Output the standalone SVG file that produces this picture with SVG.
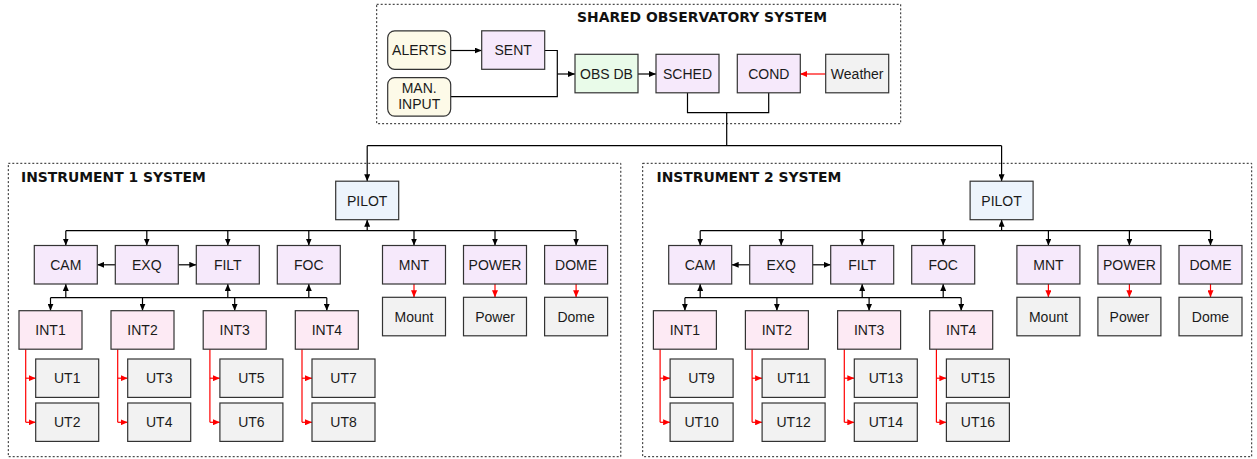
<svg xmlns="http://www.w3.org/2000/svg" width="1257" height="459" viewBox="0 0 1257 459">
<defs>
<marker id="ab" viewBox="0 0 7 6" refX="7" refY="3" markerWidth="7" markerHeight="6" markerUnits="userSpaceOnUse" orient="auto"><path d="M0,0 L7,3 L0,6 z" fill="#000"/></marker>
<marker id="ar" viewBox="0 0 7 6" refX="7" refY="3" markerWidth="7" markerHeight="6" markerUnits="userSpaceOnUse" orient="auto"><path d="M0,0 L7,3 L0,6 z" fill="#ff0000"/></marker>
</defs>
<style>
.n{stroke:#333;stroke-width:1.2}
.in{fill:#fdfae8}
.pu{fill:#f6e9fb}
.gr{fill:#e9fbe9}
.gy{fill:#f2f2f2}
.bl{fill:#edf4fc}
.pk{fill:#fdeaf4}
.t{font-family:"Liberation Sans",Arial,sans-serif;font-size:14px;fill:#1a1a1a;text-anchor:middle}
.h{font-family:"DejaVu Sans",sans-serif;font-weight:bold;font-size:13.9px;fill:#111}
.sys{fill:none;stroke:#222;stroke-width:1;stroke-dasharray:2 2}
.c{fill:none;stroke:#000;stroke-width:1.2}
.cR{fill:none;stroke:#ff0000;stroke-width:1.2}
.ca{fill:none;stroke:#000;stroke-width:1.2;marker-end:url(#ab)}
.cr{fill:none;stroke:#ff0000;stroke-width:1.2;marker-end:url(#ar)}
</style>
<rect width="1257" height="459" fill="#fff"/>

<g id="shared-system">
<rect class="sys" x="376.7" y="4.3" width="524" height="119.4"/>
<text class="h" x="702" y="21.7" text-anchor="middle">SHARED OBSERVATORY SYSTEM</text>
</g>
<g id="instrument1-system">
<rect class="sys" x="8.3" y="163.3" width="612.5" height="293.4"/>
<text class="h" x="21" y="182">INSTRUMENT 1 SYSTEM</text>
</g>
<g id="instrument2-system">
<rect class="sys" x="642.7" y="163.3" width="609" height="293.4"/>
<text class="h" x="656.5" y="182">INSTRUMENT 2 SYSTEM</text>
</g>

<g id="connectors">
<path class="ca" d="M450.7,50.5 H481.7"/>
<path class="c" d="M544.7,50.5 H557.3 V74"/>
<path class="c" d="M450.7,96.7 H557.3 V74"/>
<path class="ca" d="M557.3,74 H575"/>
<path class="ca" d="M638,74 H656"/>
<path class="cr" d="M825.7,74 H800"/>
<path class="c" d="M687.5,92.7 V112.7 H768.7 V92.7"/>
<path class="c" d="M726.7,112.7 V145.7"/>
<path class="c" d="M367.2,145.7 H1001.6"/>
<path class="ca" d="M367.2,145.7 V181.2"/>
<path class="ca" d="M1001.6,145.7 V181.2"/>

<g id="i1-connectors">
<path class="ca" d="M367.2,230.7 V219.7"/>
<path class="c" d="M65.8,230.7 H576.1"/>
<path class="ca" d="M65.8,230.7 V245.5"/>
<path class="ca" d="M146.8,230.7 V245.5"/>
<path class="ca" d="M227.8,230.7 V245.5"/>
<path class="ca" d="M308.8,230.7 V245.5"/>
<path class="ca" d="M414,230.7 V245.5"/>
<path class="ca" d="M495,230.7 V245.5"/>
<path class="ca" d="M576.1,230.7 V245.5"/>
<path class="ca" d="M115.3,264.8 H97.3"/>
<path class="ca" d="M178.3,264.8 H196.3"/>
<path class="cr" d="M414,284 V297.3"/>
<path class="cr" d="M495,284 V297.3"/>
<path class="cr" d="M576.1,284 V297.3"/>
<path class="c" d="M50.5,297.7 H326.8"/>
<path class="ca" d="M65.8,297.7 V284"/>
<path class="ca" d="M227.8,297.7 V284"/>
<path class="ca" d="M308.8,297.7 V284"/>
<path class="ca" d="M50.5,297.7 V310.7"/>
<path class="ca" d="M142.5,297.7 V310.7"/>
<path class="ca" d="M234.7,297.7 V310.7"/>
<path class="ca" d="M326.8,297.7 V310.7"/>
<path class="cR" d="M25.7,349.2 V422.3"/>
<path class="cr" d="M25.7,378.2 H35.7"/>
<path class="cr" d="M25.7,422.3 H35.7"/>
<path class="cR" d="M117.7,349.2 V422.3"/>
<path class="cr" d="M117.7,378.2 H127.7"/>
<path class="cr" d="M117.7,422.3 H127.7"/>
<path class="cR" d="M209.9,349.2 V422.3"/>
<path class="cr" d="M209.9,378.2 H219.9"/>
<path class="cr" d="M209.9,422.3 H219.9"/>
<path class="cR" d="M302,349.2 V422.3"/>
<path class="cr" d="M302,378.2 H312"/>
<path class="cr" d="M302,422.3 H312"/>
</g>

<g id="i2-connectors" transform="translate(634.4,0)">
<path class="ca" d="M367.2,230.7 V219.7"/>
<path class="c" d="M65.8,230.7 H576.1"/>
<path class="ca" d="M65.8,230.7 V245.5"/>
<path class="ca" d="M146.8,230.7 V245.5"/>
<path class="ca" d="M227.8,230.7 V245.5"/>
<path class="ca" d="M308.8,230.7 V245.5"/>
<path class="ca" d="M414,230.7 V245.5"/>
<path class="ca" d="M495,230.7 V245.5"/>
<path class="ca" d="M576.1,230.7 V245.5"/>
<path class="ca" d="M115.3,264.8 H97.3"/>
<path class="ca" d="M178.3,264.8 H196.3"/>
<path class="cr" d="M414,284 V297.3"/>
<path class="cr" d="M495,284 V297.3"/>
<path class="cr" d="M576.1,284 V297.3"/>
<path class="c" d="M50.5,297.7 H326.8"/>
<path class="ca" d="M65.8,297.7 V284"/>
<path class="ca" d="M227.8,297.7 V284"/>
<path class="ca" d="M308.8,297.7 V284"/>
<path class="ca" d="M50.5,297.7 V310.7"/>
<path class="ca" d="M142.5,297.7 V310.7"/>
<path class="ca" d="M234.7,297.7 V310.7"/>
<path class="ca" d="M326.8,297.7 V310.7"/>
<path class="cR" d="M25.7,349.2 V422.3"/>
<path class="cr" d="M25.7,378.2 H35.7"/>
<path class="cr" d="M25.7,422.3 H35.7"/>
<path class="cR" d="M117.7,349.2 V422.3"/>
<path class="cr" d="M117.7,378.2 H127.7"/>
<path class="cr" d="M117.7,422.3 H127.7"/>
<path class="cR" d="M209.9,349.2 V422.3"/>
<path class="cr" d="M209.9,378.2 H219.9"/>
<path class="cr" d="M209.9,422.3 H219.9"/>
<path class="cR" d="M302,349.2 V422.3"/>
<path class="cr" d="M302,378.2 H312"/>
<path class="cr" d="M302,422.3 H312"/>
</g>
</g>

<g id="alerts"><rect class="n in" x="387.7" y="30.8" width="63" height="38.5" rx="7"/><text class="t" x="419.2" y="55">ALERTS</text></g>
<g id="man-input"><rect class="n in" x="387.7" y="77.6" width="63" height="38.5" rx="7"/><text class="t" x="419.2" y="93.4">MAN.</text><text class="t" x="419.2" y="109.2">INPUT</text></g>
<g id="sent"><rect class="n pu" x="481.7" y="30.8" width="63" height="38.5"/><text class="t" x="513.2" y="55">SENT</text></g>
<g id="obs-db"><rect class="n gr" x="575" y="54.3" width="63" height="38.5"/><text class="t" x="606.5" y="78.6">OBS DB</text></g>
<g id="sched"><rect class="n pu" x="656" y="54.3" width="63" height="38.5"/><text class="t" x="687.5" y="78.6">SCHED</text></g>
<g id="cond"><rect class="n pu" x="737.3" y="54.3" width="63" height="38.5"/><text class="t" x="768.8" y="78.6">COND</text></g>
<g id="weather"><rect class="n gy" x="825.7" y="54.3" width="63" height="38.5"/><text class="t" x="857.2" y="78.6">Weather</text></g>

<g id="i1-pilot"><rect class="n bl" x="335.7" y="181.2" width="63" height="38.5"/><text class="t" x="367.2" y="205.5">PILOT</text></g>
<g id="i1-cam"><rect class="n pu" x="34.3" y="245.5" width="63" height="38.5"/><text class="t" x="65.8" y="269.8">CAM</text></g>
<g id="i1-exq"><rect class="n pu" x="115.3" y="245.5" width="63" height="38.5"/><text class="t" x="146.8" y="269.8">EXQ</text></g>
<g id="i1-filt"><rect class="n pu" x="196.3" y="245.5" width="63" height="38.5"/><text class="t" x="227.8" y="269.8">FILT</text></g>
<g id="i1-foc"><rect class="n pu" x="277.3" y="245.5" width="63" height="38.5"/><text class="t" x="308.8" y="269.8">FOC</text></g>
<g id="i1-mnt"><rect class="n pu" x="382.5" y="245.5" width="63" height="38.5"/><text class="t" x="414" y="269.8">MNT</text></g>
<g id="i1-power"><rect class="n pu" x="463.5" y="245.5" width="63" height="38.5"/><text class="t" x="495" y="269.8">POWER</text></g>
<g id="i1-dome"><rect class="n pu" x="544.6" y="245.5" width="63" height="38.5"/><text class="t" x="576.1" y="269.8">DOME</text></g>
<g id="i1-mount"><rect class="n gy" x="382.5" y="297.3" width="63" height="38.5"/><text class="t" x="414" y="321.6">Mount</text></g>
<g id="i1-power-hw"><rect class="n gy" x="463.5" y="297.3" width="63" height="38.5"/><text class="t" x="495" y="321.6">Power</text></g>
<g id="i1-dome-hw"><rect class="n gy" x="544.6" y="297.3" width="63" height="38.5"/><text class="t" x="576.1" y="321.6">Dome</text></g>
<g id="i1-int1"><rect class="n pk" x="19" y="310.7" width="63" height="38.5"/><text class="t" x="50.5" y="335">INT1</text></g>
<g id="i1-int2"><rect class="n pk" x="111" y="310.7" width="63" height="38.5"/><text class="t" x="142.5" y="335">INT2</text></g>
<g id="i1-int3"><rect class="n pk" x="203.2" y="310.7" width="63" height="38.5"/><text class="t" x="234.7" y="335">INT3</text></g>
<g id="i1-int4"><rect class="n pk" x="295.3" y="310.7" width="63" height="38.5"/><text class="t" x="326.8" y="335">INT4</text></g>
<g id="i1-ut1"><rect class="n gy" x="35.7" y="359" width="63" height="38.4"/><text class="t" x="67.2" y="383.2">UT1</text></g>
<g id="i1-ut2"><rect class="n gy" x="35.7" y="403" width="63" height="38.4"/><text class="t" x="67.2" y="427.2">UT2</text></g>
<g id="i1-ut3"><rect class="n gy" x="127.7" y="359" width="63" height="38.4"/><text class="t" x="159.2" y="383.2">UT3</text></g>
<g id="i1-ut4"><rect class="n gy" x="127.7" y="403" width="63" height="38.4"/><text class="t" x="159.2" y="427.2">UT4</text></g>
<g id="i1-ut5"><rect class="n gy" x="219.9" y="359" width="63" height="38.4"/><text class="t" x="251.4" y="383.2">UT5</text></g>
<g id="i1-ut6"><rect class="n gy" x="219.9" y="403" width="63" height="38.4"/><text class="t" x="251.4" y="427.2">UT6</text></g>
<g id="i1-ut7"><rect class="n gy" x="312" y="359" width="63" height="38.4"/><text class="t" x="343.5" y="383.2">UT7</text></g>
<g id="i1-ut8"><rect class="n gy" x="312" y="403" width="63" height="38.4"/><text class="t" x="343.5" y="427.2">UT8</text></g>

<g transform="translate(634.4,0)">
<g id="i2-pilot"><rect class="n bl" x="335.7" y="181.2" width="63" height="38.5"/><text class="t" x="367.2" y="205.5">PILOT</text></g>
<g id="i2-cam"><rect class="n pu" x="34.3" y="245.5" width="63" height="38.5"/><text class="t" x="65.8" y="269.8">CAM</text></g>
<g id="i2-exq"><rect class="n pu" x="115.3" y="245.5" width="63" height="38.5"/><text class="t" x="146.8" y="269.8">EXQ</text></g>
<g id="i2-filt"><rect class="n pu" x="196.3" y="245.5" width="63" height="38.5"/><text class="t" x="227.8" y="269.8">FILT</text></g>
<g id="i2-foc"><rect class="n pu" x="277.3" y="245.5" width="63" height="38.5"/><text class="t" x="308.8" y="269.8">FOC</text></g>
<g id="i2-mnt"><rect class="n pu" x="382.5" y="245.5" width="63" height="38.5"/><text class="t" x="414" y="269.8">MNT</text></g>
<g id="i2-power"><rect class="n pu" x="463.5" y="245.5" width="63" height="38.5"/><text class="t" x="495" y="269.8">POWER</text></g>
<g id="i2-dome"><rect class="n pu" x="544.6" y="245.5" width="63" height="38.5"/><text class="t" x="576.1" y="269.8">DOME</text></g>
<g id="i2-mount"><rect class="n gy" x="382.5" y="297.3" width="63" height="38.5"/><text class="t" x="414" y="321.6">Mount</text></g>
<g id="i2-power-hw"><rect class="n gy" x="463.5" y="297.3" width="63" height="38.5"/><text class="t" x="495" y="321.6">Power</text></g>
<g id="i2-dome-hw"><rect class="n gy" x="544.6" y="297.3" width="63" height="38.5"/><text class="t" x="576.1" y="321.6">Dome</text></g>
<g id="i2-int1"><rect class="n pk" x="19" y="310.7" width="63" height="38.5"/><text class="t" x="50.5" y="335">INT1</text></g>
<g id="i2-int2"><rect class="n pk" x="111" y="310.7" width="63" height="38.5"/><text class="t" x="142.5" y="335">INT2</text></g>
<g id="i2-int3"><rect class="n pk" x="203.2" y="310.7" width="63" height="38.5"/><text class="t" x="234.7" y="335">INT3</text></g>
<g id="i2-int4"><rect class="n pk" x="295.3" y="310.7" width="63" height="38.5"/><text class="t" x="326.8" y="335">INT4</text></g>
<g id="i2-ut9"><rect class="n gy" x="35.7" y="359" width="63" height="38.4"/><text class="t" x="67.2" y="383.2">UT9</text></g>
<g id="i2-ut10"><rect class="n gy" x="35.7" y="403" width="63" height="38.4"/><text class="t" x="67.2" y="427.2">UT10</text></g>
<g id="i2-ut11"><rect class="n gy" x="127.7" y="359" width="63" height="38.4"/><text class="t" x="159.2" y="383.2">UT11</text></g>
<g id="i2-ut12"><rect class="n gy" x="127.7" y="403" width="63" height="38.4"/><text class="t" x="159.2" y="427.2">UT12</text></g>
<g id="i2-ut13"><rect class="n gy" x="219.9" y="359" width="63" height="38.4"/><text class="t" x="251.4" y="383.2">UT13</text></g>
<g id="i2-ut14"><rect class="n gy" x="219.9" y="403" width="63" height="38.4"/><text class="t" x="251.4" y="427.2">UT14</text></g>
<g id="i2-ut15"><rect class="n gy" x="312" y="359" width="63" height="38.4"/><text class="t" x="343.5" y="383.2">UT15</text></g>
<g id="i2-ut16"><rect class="n gy" x="312" y="403" width="63" height="38.4"/><text class="t" x="343.5" y="427.2">UT16</text></g>
</g>
</svg>
